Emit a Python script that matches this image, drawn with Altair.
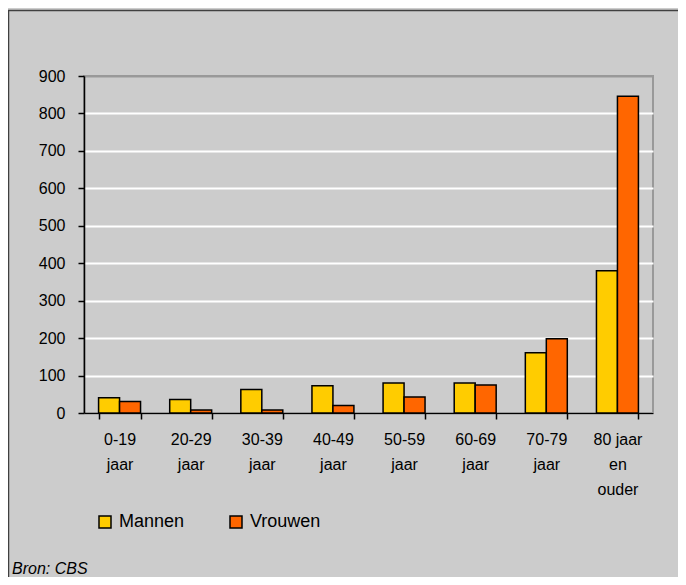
import altair as alt
import pandas as pd

categories = ["0-19 jaar", "20-29 jaar", "30-39 jaar", "40-49 jaar",
              "50-59 jaar", "60-69 jaar", "70-79 jaar", "80 jaar en ouder"]
mannen = [41, 36, 63, 73, 80, 80, 161, 380]
vrouwen = [31, 8, 8, 20, 43, 75, 198, 846]
series = ["Mannen", "Vrouwen"]
colors = ["#ffcc00", "#ff6600"]
y_ticks = [0, 100, 200, 300, 400, 500, 600, 700, 800, 900]
source = ["Bron: CBS"]

rows = []
for c, m, v in zip(categories, mannen, vrouwen):
    rows.append({"leeftijd": c, "geslacht": "Mannen", "aantal": m})
    rows.append({"leeftijd": c, "geslacht": "Vrouwen", "aantal": v})
df = pd.DataFrame(rows)

FONT = "Liberation Sans"
label_expr = ("datum.label == '80 jaar en ouder' ? ['80 jaar', 'en', 'ouder'] "
              ": split(datum.label, ' ')")

bars = alt.Chart(df).mark_bar(stroke="black", strokeWidth=1.5).encode(
    x=alt.X("leeftijd:N", sort=categories,
            scale=alt.Scale(paddingInner=0.41, paddingOuter=0.205),
            axis=alt.Axis(title=None, labelAngle=0, labelExpr=label_expr,
                          tickBand="extent", tickSize=6, tickColor="black",
                          tickWidth=1.5, domainColor="black", domainWidth=1.5,
                          labelFont=FONT, labelFontSize=16, labelColor="black",
                          labelLineHeight=25, labelPadding=12, labelBaseline="top",
                          grid=False)),
    xOffset=alt.XOffset("geslacht:N", sort=series,
                        scale=alt.Scale(paddingInner=0, paddingOuter=0)),
    y=alt.Y("aantal:Q", scale=alt.Scale(domain=[0, 900], nice=False),
            axis=alt.Axis(title=None, values=y_ticks, tickSize=6, tickColor="black",
                          tickWidth=1.5, domainColor="black", domainWidth=1.5,
                          labelFont=FONT, labelFontSize=16, labelColor="black",
                          labelPadding=13, grid=True,
                          gridColor={"condition": {"test": "datum.value >= 900",
                                                   "value": "#999999"},
                                     "value": "white"},
                          gridWidth=2)),
    color=alt.Color("geslacht:N", scale=alt.Scale(domain=series, range=colors),
                    legend=alt.Legend(title=None, orient="none", legendX=12,
                                      legendY=437, direction="horizontal",
                                      symbolType="square", symbolSize=144,
                                      symbolStrokeColor="black", symbolStrokeWidth=1.5,
                                      symbolOpacity=1,
                                      labelFont=FONT, labelFontSize=18,
                                      labelColor="black", labelOffset=5,
                                      columnPadding=42, padding=0)),
)

frame = alt.Chart(pd.DataFrame({"f": [0]})).mark_rect(
    fillOpacity=0, stroke="#404040", strokeWidth=1.5
).encode(x=alt.value(-75.5), x2=alt.value(700), y=alt.value(-65.5), y2=alt.value(600))

src = alt.Chart(pd.DataFrame({"t": source})).mark_text(
    font=FONT, fontSize=16, fontStyle="italic", align="left", baseline="middle",
    color="black"
).encode(x=alt.value(-72), y=alt.value(493), text="t:N")

chart = alt.layer(frame, bars, src).properties(
    width=569, height=337,
    autosize=alt.AutoSizeParams(type="none"),
    padding={"left": 76, "top": 68, "right": 25, "bottom": 164},
    background="#cccccc",
).configure_view(stroke="#999999", strokeWidth=2)

chart.save("out.html", embed_options={"renderer": "svg", "actions": False})
